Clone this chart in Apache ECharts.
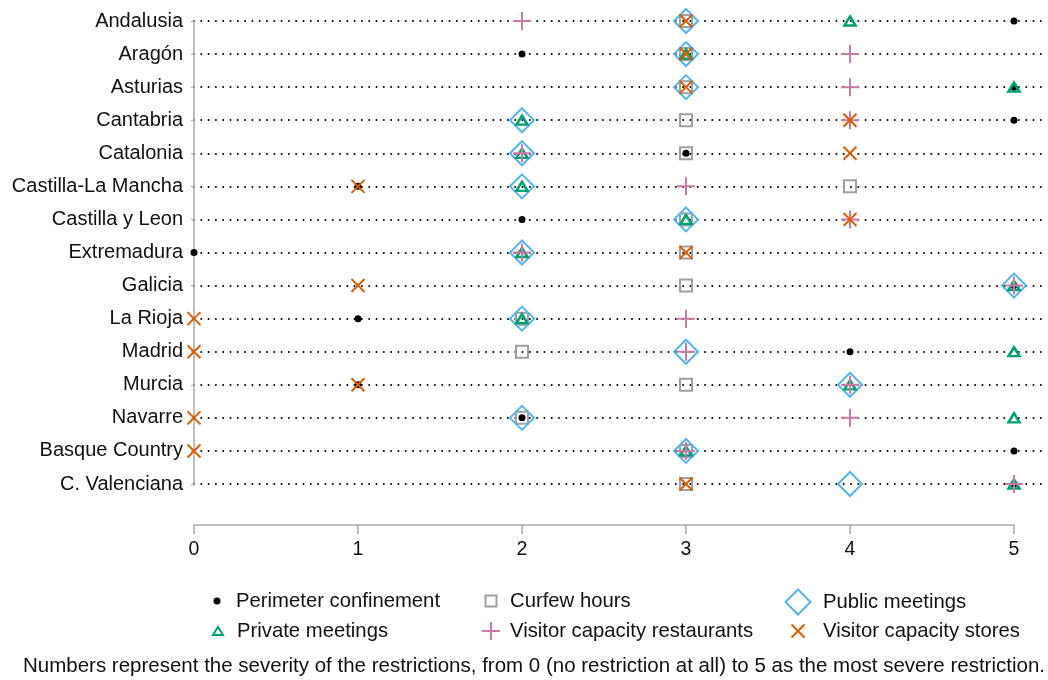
<!DOCTYPE html>
<html>
<head>
<meta charset="utf-8">
<script src="https://cdn.jsdelivr.net/npm/echarts@6/dist/echarts.min.js"></script>
<style>
  html, body { margin: 0; padding: 0; background: #fff; }
  #chart { width: 1048px; height: 680px; }
</style>
</head>
<body>
<div id="chart"></div>
<script>
// regions, top to bottom
const regions = ['Andalusia', 'Aragón', 'Asturias', 'Cantabria', 'Catalonia', 'Castilla-La Mancha',
  'Castilla y Leon', 'Extremadura', 'Galicia', 'La Rioja', 'Madrid', 'Murcia', 'Navarre',
  'Basque Country', 'C. Valenciana'];

// severity 0..5 per region
const perimeter   = [5, 2, 5, 5, 3, 1, 2, 0, 5, 1, 4, 1, 2, 5, 5];
const curfew      = [3, 3, 3, 3, 3, 4, 3, 3, 3, 2, 2, 3, 2, 3, 3];
const publicMeet  = [3, 3, 3, 2, 2, 2, 3, 2, 5, 2, 3, 4, 2, 3, 4];
const privateMeet = [4, 3, 5, 2, 2, 2, 3, 2, 5, 2, 5, 4, 5, 3, 5];
const restaurants = [2, 4, 4, 4, 2, 3, 4, 2, 5, 3, 3, 4, 4, 3, 5];
const stores      = [3, 3, 3, 4, 4, 1, 4, 3, 1, 0, 0, 1, 0, 0, 3];

const xTicks = [0, 1, 2, 3, 4, 5];
const footnote = 'Numbers represent the severity of the restrictions, from 0 (no restriction at all) to 5 as the most severe restriction.';

const FONT = '"Liberation Sans", Arial, Helvetica, sans-serif';
const PLUS = 'path://M0,-10L0,10M-10,0L10,0';
const CROSS = 'path://M-10,-10L10,10M-10,10L10,-10';
const NONE = 'rgba(0,0,0,0)';

function pts(vals) {
  return vals.map((v, i) => [v, regions[i]]);
}

function dots(name, vals, symbol, size, fill, stroke, bw) {
  return {
    name: name,
    type: 'scatter',
    xAxisIndex: 0,
    yAxisIndex: 0,
    symbol: symbol,
    symbolSize: size,
    silent: true,
    itemStyle: {
      color: fill,
      borderColor: stroke,
      borderWidth: bw,
      opacity: 1
    },
    data: pts(vals)
  };
}

// one legend per entry so every icon keeps its own size
// cx/cy = icon centre, tx = where the text starts, w/h = icon size
function legendItem(name, cx, cy, tx, w, h) {
  const left = cx - w / 2;
  return {
    data: [name],
    left: left,
    top: cy - Math.max(h, 20) / 2,
    padding: 0,
    itemWidth: w,
    itemHeight: h,
    selectedMode: false,
    textStyle: {
      fontFamily: FONT, fontSize: 20.3, color: '#111',
      padding: [0, 0, 0, Math.max(0, tx - (left + w + 5))]
    }
  };
}

const chart = echarts.init(document.getElementById('chart'));

const option = {
  backgroundColor: '#fff',
  animation: false,
  title: {
    text: footnote,
    left: 23,
    top: 656,
    padding: 0,
    textStyle: { fontFamily: FONT, fontSize: 20.5, fontWeight: 'normal', color: '#111' }
  },
  legend: [
    legendItem('Perimeter confinement', 217, 601, 236, 7, 7),
    legendItem('Curfew hours', 490, 601, 509, 11, 11),
    legendItem('Public meetings', 797, 601, 822, 25, 25),
    legendItem('Private meetings', 217, 631, 236, 10, 8),
    legendItem('Visitor capacity restaurants', 490, 631, 509, 18, 18),
    legendItem('Visitor capacity stores', 797, 631, 822, 13, 13)
  ],
  grid: [
    { left: 194, right: 3, top: 21, bottom: 196 },
    { left: 194, right: 34, top: 21, bottom: 196 }
  ],
  xAxis: [{
    gridIndex: 0,
    type: 'value',
    min: 0,
    max: 851 / 164,
    show: false
  }, {
    gridIndex: 1,
    type: 'value',
    min: xTicks[0],
    max: xTicks[xTicks.length - 1],
    interval: 1,
    offset: 41,
    axisLine: { onZero: false, lineStyle: { color: '#a8a8a8', width: 1.5 } },
    axisTick: { length: 9, lineStyle: { color: '#a8a8a8', width: 1.5 } },
    axisLabel: { fontFamily: FONT, fontSize: 19.5, color: '#111', margin: 15 },
    splitLine: { show: false }
  }],
  yAxis: [{
    gridIndex: 0,
    type: 'category',
    inverse: true,
    boundaryGap: false,
    data: regions,
    axisLine: { lineStyle: { color: '#a8a8a8', width: 1.5 } },
    axisTick: { length: 3, lineStyle: { color: '#a8a8a8' } },
    axisLabel: { fontFamily: FONT, fontSize: 20, color: '#111', margin: 11 },
    splitLine: {
      show: true,
      lineStyle: { color: '#000', width: 2, type: [0, 7.3], cap: 'round' }
    }
  }, {
    gridIndex: 1,
    type: 'value',
    show: false
  }],
  series: [
    dots('Perimeter confinement', perimeter, 'circle', 7, '#000', '#000', 0),
    dots('Curfew hours', curfew, 'rect', 12, NONE, '#a0a0a0', 2),
    dots('Public meetings', publicMeet, 'diamond', 24, NONE, '#56b4e9', 2),
    dots('Private meetings', privateMeet, 'triangle', [11, 9], NONE, '#009e73', 2.5),
    dots('Visitor capacity restaurants', restaurants, PLUS, 18, NONE, '#cc79a7', 2),
    dots('Visitor capacity stores', stores, CROSS, 13, NONE, '#d55e00', 2)
  ]
};

chart.setOption(option);
</script>
</body>
</html>
